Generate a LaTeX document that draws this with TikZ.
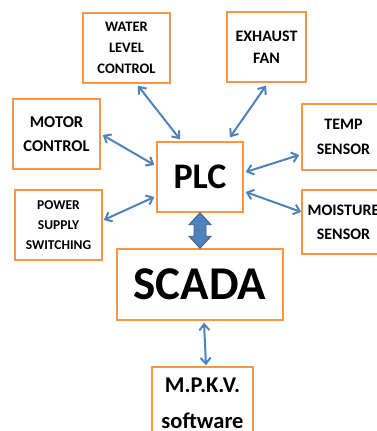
\documentclass[tikz,border=0pt]{standalone}
\usepackage{fontspec}
\setmainfont{Carlito}
\usepackage{tikz}
\usetikzlibrary{arrows.meta,calc}
\definecolor{officeorange}{HTML}{F79646}
\definecolor{officeblue}{HTML}{4F81BD}
\definecolor{officeblueborder}{HTML}{385D8A}
\tikzset{
  caja/.style={
    draw=officeorange,
    line width=1.4pt,
    fill=white,
    align=center,
    inner sep=0pt,
    font=\bfseries
  },
  arrow/.style={
    {Straight Barb[length=6pt,width=10pt]}-{Straight Barb[length=6pt,width=10pt]},
    line width=2pt,
    officeblue
  },
  flecha/.style={
    fill=officeblue,
    draw=officeblueborder,
    line width=0.8pt,
    line join=miter
  }
}
\begin{document}
\begin{tikzpicture}[x=1pt,y=1pt]
\useasboundingbox (0,0) rectangle (377,431);
\node[caja,minimum width=87pt,minimum height=70pt,font=\bfseries\fontsize{14.5}{21}\selectfont] (wlc) at (126.5,383) {WATER\\LEVEL\\CONTROL};
\node[caja,minimum width=79pt,minimum height=70pt,font=\bfseries\fontsize{16}{22}\selectfont] (fan) at (266.5,384) {EXHAUST\\FAN};
\node[caja,minimum width=87pt,minimum height=70pt,font=\bfseries\fontsize{16.5}{24}\selectfont] (motor) at (56.5,297) {MOTOR\\CONTROL};
\node[caja,minimum width=83pt,minimum height=66pt,font=\bfseries\fontsize{16}{25}\selectfont] (temp) at (343.5,294) {TEMP\\SENSOR};
\node[caja,minimum width=86pt,minimum height=70pt,font=\bfseries\fontsize{36}{40}\selectfont] (plc) at (200,254) {PLC};
\node[caja,minimum width=87pt,minimum height=70pt,font=\bfseries\fontsize{13.5}{20}\selectfont] (power) at (58.5,206) {POWER\\SUPPLY\\SWITCHING};
\node[caja,minimum width=83pt,minimum height=64pt,font=\bfseries\fontsize{16}{24}\selectfont] (moist) at (343.5,209) {MOISTURE\\SENSOR};
\node[caja,minimum width=166pt,minimum height=71pt,font=\bfseries\fontsize{47}{50}\selectfont] (scada) at (200,146.5) {SCADA};
\node[caja,minimum width=101pt,minimum height=72pt,font=\bfseries\fontsize{22.5}{36}\selectfont] (mpkv) at (202.5,28) {M.P.K.V.\\software};
\draw[flecha] (plc.south) -- ++(11,-12) -- ++(-5,0) -- ($(scada.north)+(6,12)$) -- ++(5,0)
  -- (scada.north) -- ++(-11,12) -- ++(5,0) -- ($(plc.south)+(-6,-12)$) -- ++(-5,0) -- cycle;
\draw[arrow] ([xshift=11.5pt,yshift=-2pt]wlc.south) -- ([xshift=-20pt,yshift=2pt]plc.north);
\draw[arrow] ([xshift=-0.5pt,yshift=-3pt]fan.south) -- ([xshift=30pt,yshift=4pt]plc.north);
\draw[arrow] ([xshift=2pt,yshift=-1pt]motor.east) -- ([xshift=-2pt,yshift=12pt]plc.west);
\draw[arrow] ([xshift=2pt,yshift=5pt]plc.east) -- ([xshift=-2pt,yshift=-18pt]temp.west);
\draw[arrow] ([xshift=1pt,yshift=5pt]power.east) -- ([xshift=-2pt,yshift=-20pt]plc.west);
\draw[arrow] ([xshift=2pt,yshift=-15pt]plc.east) -- ([xshift=0pt,yshift=10pt]moist.west);
\draw[arrow] ([xshift=4pt,yshift=-2pt]scada.south) -- ([xshift=3.5pt,yshift=1pt]mpkv.north);
\end{tikzpicture}
\end{document}
